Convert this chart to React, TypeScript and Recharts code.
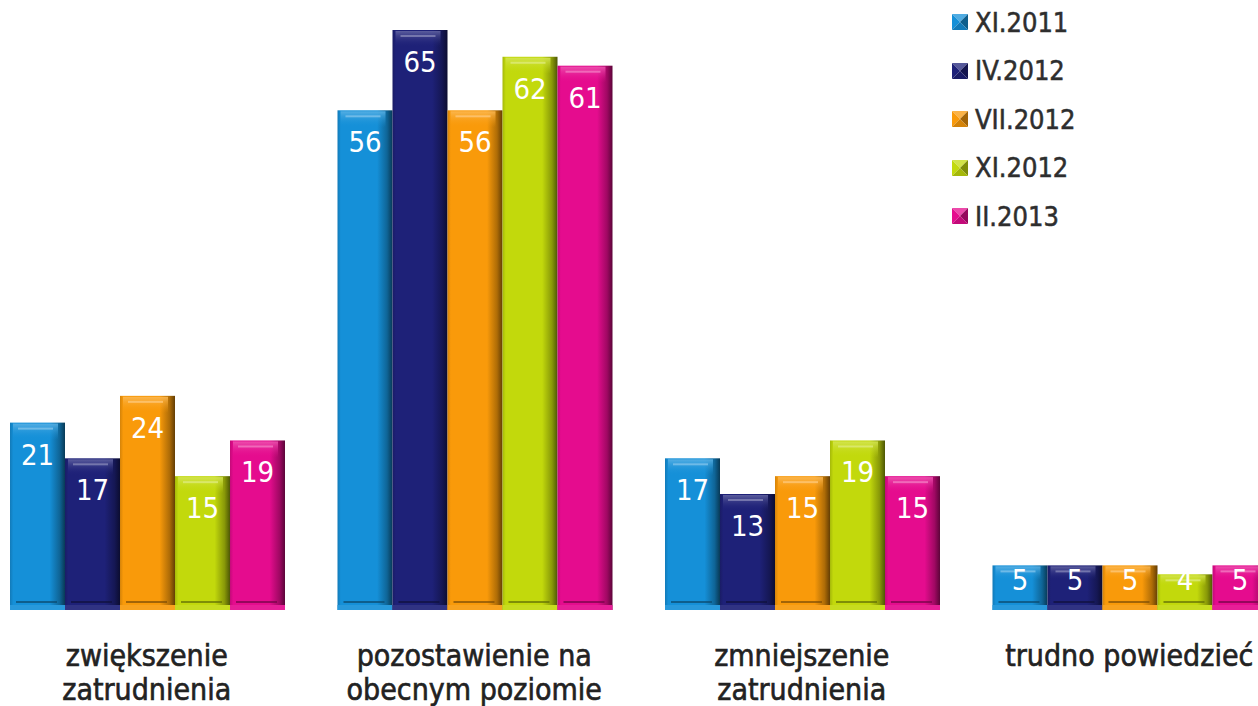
import { BarChart, Bar, XAxis, YAxis, Legend, LabelList } from 'recharts'

const categories = [
  'zwiększenie\nzatrudnienia',
  'pozostawienie na\nobecnym poziomie',
  'zmniejszenie\nzatrudnienia',
  'trudno powiedzieć',
]
const seriesNames = ['XI.2011', 'IV.2012', 'VII.2012', 'XI.2012', 'II.2013']
const seriesColors = ['#1590d8', '#1e2178', '#f99a0a', '#c2d90c', '#e50c8e']

const xi2011 = [21, 56, 17, 5]
const iv2012 = [17, 65, 13, 5]
const vii2012 = [24, 56, 15, 5]
const xi2012 = [15, 62, 19, 4]
const ii2013 = [19, 61, 15, 5]
const seriesValues = [xi2011, iv2012, vii2012, xi2012, ii2013]

const data = categories.map((name, i) => {
  const row: Record<string, string | number> = { name }
  seriesNames.forEach((s, j) => {
    row[s] = seriesValues[j][i]
  })
  return row
})

const FONT = '"DejaVu Sans Condensed", "DejaVu Sans", sans-serif'

function mix(hex: string, other: string, t: number) {
  const a = parseInt(hex.slice(1), 16)
  const b = parseInt(other.slice(1), 16)
  const ch = (v: number, s: number) => (v >> s) & 255
  const m = (s: number) => Math.round(ch(a, s) * (1 - t) + ch(b, s) * t)
  return `rgb(${m(16)},${m(8)},${m(0)})`
}

function BevelBar(props: any) {
  const { x, y, width: w, height: h, idx } = props
  if (!h || h <= 0) return null
  const c = seriesColors[idx]
  const cap = Math.min(16, h * 0.3)
  return (
    <g>
      <rect x={x} y={y} width={w} height={h} fill={`url(#side${idx})`} />
      <rect x={x + 3} y={y + 1} width={w - 10} height={cap} fill={`url(#cap${idx})`} />
      <rect x={x + 8} y={y + 5} width={w - 20} height={2} fill={mix(c, '#ffffff', 0.45)} opacity={0.8} />
      <rect x={x + 6} y={y + h - 9} width={w - 14} height={2} fill={mix(c, '#000000', 0.5)} opacity={0.7} />
      <rect x={x} y={y + h - 5} width={w} height={5} fill={mix(c, '#ffffff', 0.08)} />
    </g>
  )
}

function ValueLabel(props: any) {
  const { x, y, width, height, value } = props
  const cy = Math.min(y + 32, y + height - 30)
  return (
    <text
      x={x + width / 2}
      y={cy}
      textAnchor="middle"
      dominantBaseline="central"
      fill="#ffffff"
      fontFamily={FONT}
      fontSize={29}
    >
      {value}
    </text>
  )
}

function CategoryTick(props: any) {
  const { x, payload } = props
  const lines = String(payload.value).split('\n')
  return (
    <text
      textAnchor="middle"
      fill="#222222"
      stroke="#222222"
      strokeWidth={0.6}
      fontFamily={FONT}
      fontSize={30}
    >
      {lines.map((l, i) => (
        <tspan key={i} x={x} y={666 + i * 34}>
          {l}
        </tspan>
      ))}
    </text>
  )
}

function LegendBox() {
  return (
    <div style={{ fontFamily: FONT, fontSize: 27, color: '#2e2e2e', WebkitTextStroke: '0.5px #2e2e2e' }}>
      {seriesNames.map((s, i) => {
        const c = seriesColors[i]
        return (
          <div key={s} style={{ height: 48.5, display: 'flex', alignItems: 'center' }}>
            <svg width={16} height={16} style={{ marginRight: 7 }}>
              <polygon points="0,0 16,0 8,8" fill={mix(c, '#ffffff', 0.25)} />
              <polygon points="0,0 8,8 0,16" fill={c} />
              <polygon points="16,0 16,16 8,8" fill={mix(c, '#000000', 0.35)} />
              <polygon points="0,16 16,16 8,8" fill={mix(c, '#000000', 0.15)} />
            </svg>
            <span style={{ lineHeight: 1 }}>{s}</span>
          </div>
        )
      })}
    </div>
  )
}

export default function App() {
  return (
    <div
      style={{
        position: 'fixed',
        left: 0,
        top: 0,
        width: 1258,
        height: 706,
        overflow: 'hidden',
        background: '#ffffff',
      }}
    >
      <div style={{ position: 'absolute', left: -17, top: 0 }}>
        <BarChart
          width={1310}
          height={706}
          data={data}
          margin={{ top: 30, right: 0, bottom: 0, left: 0 }}
          barCategoryGap={27}
          barGap={0}
        >
          <defs>
            {seriesColors.map((c, i) => (
              <linearGradient key={`s${i}`} id={`side${i}`} x1="0" y1="0" x2="1" y2="0">
                <stop offset="0%" stopColor={mix(c, '#000000', 0.15)} />
                <stop offset="6%" stopColor={c} />
                <stop offset="72%" stopColor={c} />
                <stop offset="90%" stopColor={mix(c, '#000000', 0.3)} />
                <stop offset="100%" stopColor={mix(c, '#000000', 0.6)} />
              </linearGradient>
            ))}
            {seriesColors.map((c, i) => (
              <linearGradient key={`c${i}`} id={`cap${i}`} x1="0" y1="0" x2="0" y2="1">
                <stop offset="0%" stopColor={mix(c, '#ffffff', 0.3)} stopOpacity={0.9} />
                <stop offset="100%" stopColor={c} stopOpacity={0} />
              </linearGradient>
            ))}
          </defs>
          <XAxis
            dataKey="name"
            axisLine={false}
            tickLine={false}
            height={96}
            interval={0}
            tick={<CategoryTick />}
          />
          <YAxis hide domain={[0, 65]} />
          <Legend
            layout="vertical"
            align="center"
            verticalAlign="middle"
            wrapperStyle={{ left: 969, top: -2, width: 200 }}
            content={<LegendBox />}
          />
          {seriesNames.map((s, i) => (
            <Bar
              key={s}
              dataKey={s}
              fill={seriesColors[i]}
              isAnimationActive={false}
              shape={(p: any) => <BevelBar {...p} idx={i} />}
            >
              <LabelList dataKey={s} content={<ValueLabel />} />
            </Bar>
          ))}
        </BarChart>
      </div>
    </div>
  )
}
